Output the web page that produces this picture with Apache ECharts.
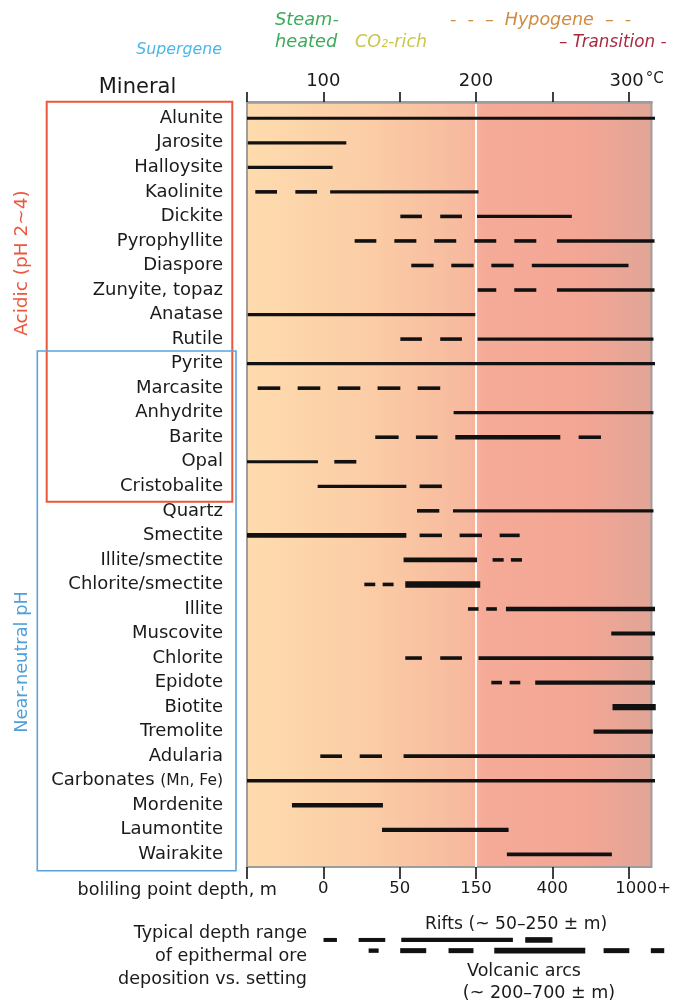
<!DOCTYPE html>
<html><head><meta charset="utf-8">
<script src="https://cdn.jsdelivr.net/npm/echarts@6/dist/echarts.min.js"></script>
<style>html,body{margin:0;padding:0;background:#fff}#c{width:674px;height:1003px}</style>
</head><body><div id="c"></div>
<script>
// ---------- data ----------
const minerals = ['Alunite','Jarosite','Halloysite','Kaolinite','Dickite','Pyrophyllite','Diaspore','Zunyite, topaz','Anatase','Rutile',
  'Pyrite','Marcasite','Anhydrite','Barite','Opal','Cristobalite','Quartz','Smectite','Illite/smectite','Chlorite/smectite',
  'Illite','Muscovite','Chlorite','Epidote','Biotite','Tremolite','Adularia','Carbonates (Mn, Fe)','Mordenite','Laumontite','Wairakite'];

// [mineral, from °C, to °C, line weight]
const solidSegments = [
  ['Alunite',50,315,3.2],['Jarosite',50.5,114.5,3.2],['Halloysite',50.5,105.6,3.2],['Kaolinite',104,200.4,3.2],
  ['Dickite',199.4,261,3.2],['Pyrophyllite',251.3,314.7,3.4],['Diaspore',235,297.8,3.4],['Zunyite, topaz',251.3,314.7,3.4],
  ['Anatase',50.5,198.3,3.2],['Rutile',199.8,314,3.4],['Pyrite',50,315,3.4],['Anhydrite',184.2,314,3.2],
  ['Barite',185.3,253.5,4.6],['Opal',50,96.1,3.2],['Cristobalite',95.9,153.5,3.2],['Quartz',183.8,314,3.4],
  ['Smectite',50,153.5,4.6],['Illite/smectite',151.7,199.4,4.6],['Chlorite/smectite',152.8,201.5,6.5],['Illite',218.2,315,4.6],
  ['Muscovite',286.6,315,4.2],['Chlorite',200.4,314,3.8],['Epidote',237.2,315,4.4],['Biotite',287.4,315.5,6.4],
  ['Tremolite',275.1,313.6,4.2],['Adularia',151.7,315,3.8],['Carbonates (Mn, Fe)',50,315,3.6],['Mordenite',79.2,138.3,4.4],
  ['Laumontite',137.7,219.9,4.2],['Wairakite',218.8,287,3.6]
];
// [mineral, from °C, to °C] — individual dashes of uncertain ranges
const dashSegments = [
  ['Kaolinite',55.4,69.5],['Kaolinite',81.4,95.5],
  ['Dickite',149.6,163.6],['Dickite',175.5,189.6],
  ['Pyrophyllite',119.9,134],['Pyrophyllite',145.7,160],['Pyrophyllite',171.6,185.9],['Pyrophyllite',197.6,211.9],['Pyrophyllite',223.6,237.9],
  ['Diaspore',156.7,171.2],['Diaspore',182.7,197.2],['Diaspore',208.7,223.2],
  ['Zunyite, topaz',199.8,211.9],['Zunyite, topaz',223.6,237.9],
  ['Rutile',149.6,163.6],['Rutile',175.5,189.6],
  ['Marcasite',56.9,71.6],['Marcasite',82.9,97.6],['Marcasite',108.9,123.6],['Marcasite',134.8,149.6],['Marcasite',160.8,175.5],
  ['Barite',133.3,148.5],['Barite',159.7,173.8],['Barite',265.4,279.9],
  ['Opal',106.7,121],['Cristobalite',162.1,176.6],['Quartz',160.4,174.9],
  ['Smectite',162.1,176.6],['Smectite',188.1,202.6],['Smectite',214.1,227.1],
  ['Illite/smectite',209.5,216.7],['Illite/smectite',221.4,228.6],
  ['Chlorite/smectite',126.2,133.3],['Chlorite/smectite',138.1,145.2],
  ['Illite',193.5,200.4],['Illite',205.4,212.3],
  ['Chlorite',152.8,163.6],['Chlorite',175.5,189.6],
  ['Epidote',208.7,215.6],['Epidote',220.6,227.5],
  ['Adularia',97.6,111.7],['Adularia',123.2,137.7]
];
const settings = ['Rifts','Volcanic arcs'];
// [setting, from, to, weight] on the same temperature/depth scale
const depthSegments = [
  ['Rifts',99.7,108.4,4],['Rifts',122.5,139.8,4],['Rifts',150.2,222.7,4.3],['Rifts',230.7,248.4,5.6],
  ['Volcanic arcs',129,135.5,4.4],['Volcanic arcs',149.5,166.4,5],['Volcanic arcs',180.9,197.1,5],['Volcanic arcs',210.6,269.7,5.6],
  ['Volcanic arcs',281.6,298.3,5],['Volcanic arcs',312.3,321,5]
];
const tempTicks = [50,100,150,200,250,300];
const tempLabels = ['','100','','200','','300'];
const depthLabels = ['','0','50','150','400','1000+'];
const boundaryTemp = 200;
const tempMin = 50, tempMax = 315;

// ---------- chart ----------
const F = 'DejaVu Sans';
const chart = echarts.init(document.getElementById('c'), null, {renderer:'canvas'});
function segItem(params, api){
  const y = api.value(0);
  const a = api.coord([api.value(1), y]);
  const b = api.coord([api.value(2), y]);
  return {type:'line', shape:{x1:a[0],y1:a[1],x2:b[0],y2:b[1]},
    style:{stroke:'#111', lineWidth:api.value(3), lineCap:'butt'}};
}
const DASH_W = 3.6;
const solidData = solidSegments.map(s=>[minerals.indexOf(s[0]), s[1], s[2], s[3]]);
const dashData = dashSegments.map(s=>[minerals.indexOf(s[0]), s[1], s[2], DASH_W]);
const depthData = depthSegments.map(s=>[settings.indexOf(s[0]), s[1], s[2], s[3]]);

const txt = (x,y,text,opt)=>({type:'text', x, y, silent:true, z:10, rotation:opt.rot||0,
  style:Object.assign({text, font:(opt.italic?'italic ':'')+opt.size+'px "'+F+'"', fill:opt.color||'#1a1a1a',
    align:opt.align||'left', textAlign:opt.align||'left', verticalAlign:'middle', textVerticalAlign:'middle'})});

const option = {
  animation:false,
  backgroundColor:'#fff',
  grid:[
    {left:247, right:19, top:102, bottom:136, show:true, borderColor:'#9d9d9d', borderWidth:2,
     backgroundColor:{type:'linear',x:0,y:0,x2:1,y2:0,colorStops:[
       {offset:0,color:'#fedcae'},{offset:0.3,color:'#fbcda6'},{offset:0.55,color:'#f7b99e'},
       {offset:0.58,color:'#f5ab98'},{offset:0.82,color:'#f4a694'},{offset:1,color:'#e1a597'}]}},
    {left:247, right:19, top:106, bottom:136.4},
    {left:247, right:19, top:934.6, height:21.4}
  ],
  xAxis:[
    {gridIndex:0, type:'value', position:'top', min:tempMin, max:tempMax, interval:50, z:4,
     axisLine:{show:true, onZero:false, lineStyle:{color:'#9d9d9d', width:2.5}}, splitLine:{show:false},
     axisTick:{show:true, inside:false, length:10, customValues:tempTicks, lineStyle:{color:'#111', width:1.6}},
     axisLabel:{customValues:tempTicks, margin:12, color:'#1a1a1a', fontFamily:F, fontSize:18,
       formatter:v=>{const l = tempLabels[tempTicks.indexOf(v)]||''; return l==='300' ? '{n|300}{u|°C}' : l;},
       rich:{n:{fontFamily:F, fontSize:18, color:'#1a1a1a', padding:[0,0,0,16]},
             u:{fontFamily:F, fontSize:15, color:'#1a1a1a', padding:[0,0,3,2], verticalAlign:'bottom'}}}},
    {gridIndex:0, type:'value', position:'bottom', min:tempMin, max:tempMax, interval:50, z:4,
     axisLine:{show:false, onZero:false}, splitLine:{show:false},
     axisTick:{show:true, inside:false, length:12, customValues:tempTicks, lineStyle:{color:'#111', width:1.6}},
     axisLabel:{customValues:tempTicks, margin:13, color:'#1a1a1a', fontFamily:F, fontSize:16.5,
       formatter:v=>{const l = depthLabels[tempTicks.indexOf(v)]||''; return l==='1000+' ? '{p|1000+}' : l;},
       rich:{p:{fontFamily:F, fontSize:16.5, color:'#1a1a1a', padding:[0,0,0,29]}}}},
    {gridIndex:1, type:'value', min:tempMin, max:tempMax, show:false},
    {gridIndex:2, type:'value', min:tempMin, max:tempMax, show:false}
  ],
  yAxis:[
    {gridIndex:0, type:'value', min:0, max:1, show:false},
    {gridIndex:1, type:'category', data:minerals, inverse:true,
     axisLine:{show:false}, axisTick:{show:false},
     axisLabel:{margin:24, color:'#1a1a1a', fontFamily:F, fontSize:18, interval:0,
       formatter:v=> v==='Carbonates (Mn, Fe)' ? 'Carbonates {s|(Mn, Fe)}' : v,
       rich:{s:{fontFamily:F, fontSize:15.5, color:'#1a1a1a'}}}},
    {gridIndex:2, type:'category', data:settings, inverse:true, show:false}
  ],
  series:[
    {type:'custom', xAxisIndex:0, yAxisIndex:0, silent:true, z:1, data:[[boundaryTemp]],
     renderItem:(p,api)=>{const a=api.coord([api.value(0),0]), b=api.coord([api.value(0),1]);
       return {type:'line', shape:{x1:a[0],y1:a[1],x2:b[0],y2:b[1]}, style:{stroke:'#ffffff', lineWidth:2}};}},
    {type:'custom', name:'solid', xAxisIndex:2, yAxisIndex:1, z:3, silent:true, data:solidData, encode:{x:[1,2], y:0}, renderItem:segItem},
    {type:'custom', name:'dash', xAxisIndex:2, yAxisIndex:1, z:3, silent:true, data:dashData, encode:{x:[1,2], y:0}, renderItem:segItem},
    {type:'custom', name:'depth', xAxisIndex:3, yAxisIndex:2, z:3, silent:true, clip:false, data:depthData, encode:{x:[1,2], y:0}, renderItem:segItem}
  ],
  graphic:[
    {type:'rect', silent:true, z:5, shape:{x:46.7, y:101.7, width:185.6, height:400}, style:{fill:'none', stroke:'#e9583f', lineWidth:2}},
    {type:'rect', silent:true, z:5, shape:{x:37.3, y:351, width:198.7, height:519.7}, style:{fill:'none', stroke:'#5ba2db', lineWidth:1.6}},
    txt(137.5, 88, 'Mineral', {size:21, align:'center'}),
    txt(22, 263, 'Acidic (pH 2~4)', {size:18.5, align:'center', color:'#e9583f', rot:Math.PI/2}),
    txt(22, 662, 'Near-neutral pH', {size:17.8, align:'center', color:'#4f9fd9', rot:Math.PI/2}),
    txt(222, 50, 'Supergene', {size:15.8, align:'right', italic:true, color:'#4cb6e9'}),
    txt(275, 20, 'Steam-', {size:17.8, italic:true, color:'#3daa5b'}),
    txt(275, 42.5, 'heated', {size:17.8, italic:true, color:'#3daa5b'}),
    txt(355, 42.5, 'CO₂-rich', {size:17.5, italic:true, color:'#c9c84c'}),
    txt(450, 20, '-  -  –  Hypogene  –  -', {size:17.5, italic:true, color:'#cf8a41'}),
    txt(559, 42.5, '– Transition -', {size:16.8, italic:true, color:'#a8283e'}),
    txt(277, 890, 'boliling point depth, m', {size:17.6, align:'right'}),
    txt(307, 933, 'Typical depth range', {size:17.6, align:'right'}),
    txt(307, 956, 'of epithermal ore', {size:17.6, align:'right'}),
    txt(307, 979, 'deposition vs. setting', {size:17.6, align:'right'}),
    txt(516, 925, 'Rifts (~ 50–250 ± m)', {size:17.2, align:'center'}),
    txt(524, 971, 'Volcanic arcs', {size:17.5, align:'center'}),
    txt(539, 993, '(~ 200–700 ± m)', {size:17.5, align:'center'})
  ]
};
chart.setOption(option);
</script></body></html>
